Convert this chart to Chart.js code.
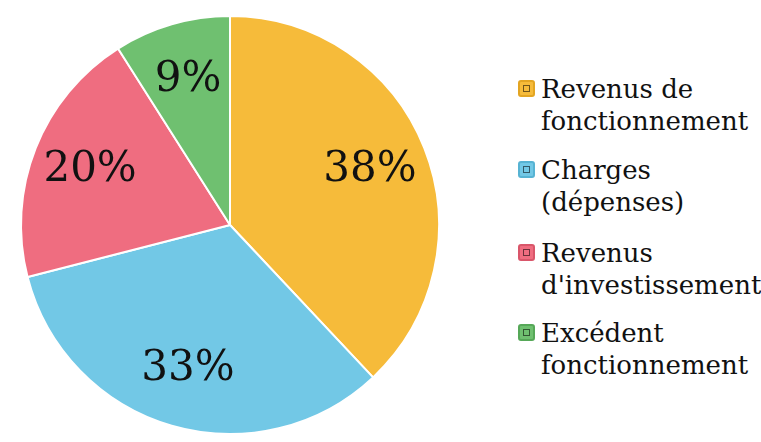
<!DOCTYPE html>
<html>
<head>
<meta charset="utf-8">
<script src="https://cdn.jsdelivr.net/npm/chart.js@4.4.1/dist/chart.umd.min.js"></script>
<style>
  body { margin: 0; background: #fff; }
  #wrap { position: relative; width: 761px; height: 442px; }
  #pie { position: absolute; left: 0; top: 0; }
  #legend { position: absolute; left: 517px; top: 0; font-family: "DejaVu Serif", serif; font-size: 26px; color: #111; }
  .item { position: absolute; left: 0; width: 244px; line-height: 32px; }
  .item .txt { position: absolute; left: 24px; top: 0; white-space: nowrap; }
  .box { position: absolute; left: 1px; width: 13px; height: 13px; border: 2px solid; border-radius: 3px; }
  .box i { position: absolute; left: 3px; top: 3px; width: 5px; height: 5px; border: 1px solid rgba(0,0,0,0.55); }
</style>
</head>
<body>
<div id="wrap">
  <canvas id="pie" width="460" height="442"></canvas>
  <div id="legend"></div>
</div>
<script>
// slices, clockwise from 12 o'clock
const labels = [
  ["Revenus de", "fonctionnement"],
  ["Charges", "(dépenses)"],
  ["Revenus", "d'investissement"],
  ["Excédent", "fonctionnement"]
];
const values = [38, 33, 20, 9];
const colors = ["#f6bb3a", "#72c8e6", "#ef6d80", "#6fc070"];
const edgeColors = ["#e3a522", "#57b3d3", "#d9566a", "#56a858"];

// percentage labels drawn inside each slice
const sliceLabels = {
  id: "sliceLabels",
  afterDatasetsDraw(chart) {
    const ctx = chart.ctx;
    const meta = chart.getDatasetMeta(0);
    ctx.save();
    ctx.font = "42px 'DejaVu Serif'";
    ctx.fillStyle = "#111";
    ctx.textAlign = "center";
    ctx.textBaseline = "middle";
    meta.data.forEach((arc, i) => {
      const p = arc.getProps(["x", "y", "startAngle", "endAngle", "outerRadius"], true);
      const mid = (p.startAngle + p.endAngle) / 2;
      const r = p.outerRadius * 0.72;
      ctx.fillText(values[i] + "%", p.x + Math.cos(mid) * r, p.y + Math.sin(mid) * r);
    });
    ctx.restore();
  }
};

new Chart(document.getElementById("pie"), {
  type: "pie",
  data: {
    labels: labels.map(l => l.join(" ")),
    datasets: [{
      data: values,
      backgroundColor: colors,
      borderColor: "#ffffff",
      borderWidth: 2
    }]
  },
  options: {
    responsive: false,
    animation: false,
    layout: { padding: { top: 15, bottom: 7, left: 0, right: 0 } },
    plugins: {
      legend: { display: false },
      tooltip: { enabled: false }
    }
  },
  plugins: [sliceLabels]
});

// legend on the right
const legendTops = [73, 154, 237, 317];
const legend = document.getElementById("legend");
labels.forEach((lines, i) => {
  const item = document.createElement("div");
  item.className = "item";
  item.style.top = legendTops[i] + "px";
  const box = document.createElement("span");
  box.className = "box";
  box.style.top = "7px";
  box.style.background = colors[i];
  box.style.borderColor = edgeColors[i];
  box.appendChild(document.createElement("i"));
  const txt = document.createElement("span");
  txt.className = "txt";
  txt.innerHTML = lines.join("<br>");
  item.appendChild(box);
  item.appendChild(txt);
  legend.appendChild(item);
});
</script>
</body>
</html>
